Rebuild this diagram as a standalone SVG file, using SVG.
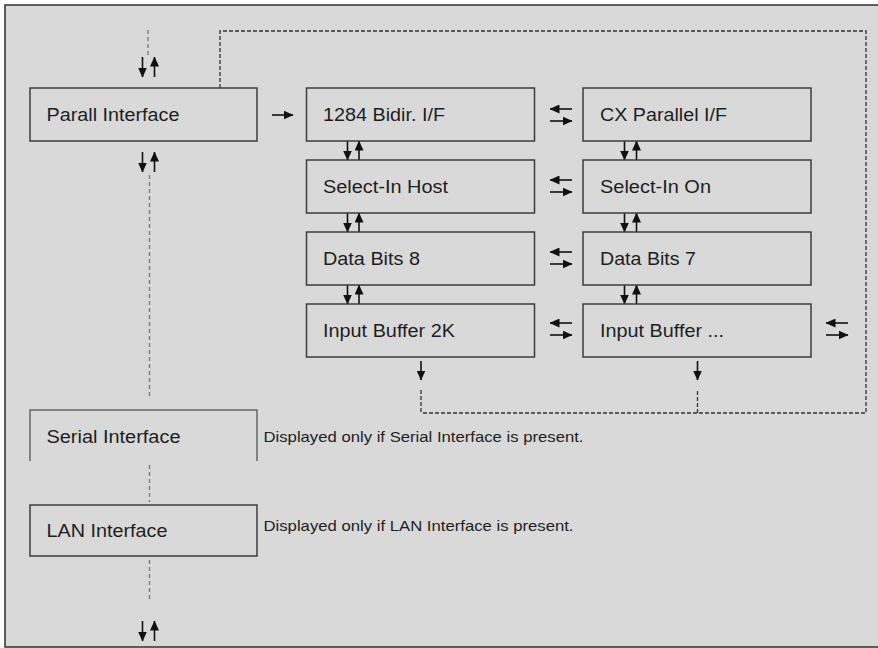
<svg xmlns="http://www.w3.org/2000/svg" width="878" height="648" viewBox="0 0 878 648">
<style>
.box{fill:none;stroke:#3c3c3c;stroke-width:1.5}
.lbl{font-family:"Liberation Sans",Arial,sans-serif;font-size:17.5px;fill:#1e1e1e}
.desc{font-family:"Liberation Sans",Arial,sans-serif;font-size:15px;fill:#1e1e1e}
.arr{stroke:#111;stroke-width:1.6;fill:none;marker-end:url(#ah)}
.dash{stroke:#333;stroke-width:1.3;fill:none;stroke-dasharray:4 2}
.dashl{stroke:#777;stroke-width:1.3;fill:none;stroke-dasharray:4 3}
</style>
<defs>
<marker id="ah" markerUnits="userSpaceOnUse" markerWidth="10" markerHeight="9" refX="9.5" refY="4.5" orient="auto">
<path d="M0,0 L10,4.5 L0,9 z" fill="#111"/>
</marker>
</defs>
<rect x="0" y="0" width="878" height="648" fill="#ffffff"/>
<rect x="5" y="5" width="900" height="642" fill="#d9d9d9" stroke="#3a3a3a" stroke-width="1.6"/>

<g id="connectors">
<path class="dash" d="M220,88 V31 H866 V413 H421"/>
<path class="dash" d="M421,390 V413"/>
<path class="dash" d="M697.5,391 V413"/>
<path class="dashl" d="M148,30 V58"/>
<path class="dashl" d="M149.5,175 V397"/>
<path class="dashl" d="M149.5,465 V502"/>
<path class="dashl" d="M149.5,560 V600"/>
<line class="arr" x1="142.5" y1="57" x2="142.5" y2="77"/>
<line class="arr" x1="154.5" y1="77" x2="154.5" y2="57"/>
<line class="arr" x1="142.5" y1="152" x2="142.5" y2="172"/>
<line class="arr" x1="154.5" y1="172" x2="154.5" y2="152"/>
<line class="arr" x1="142.5" y1="621" x2="142.5" y2="641"/>
<line class="arr" x1="154.5" y1="641" x2="154.5" y2="621"/>
<line class="arr" x1="272" y1="115" x2="293" y2="115"/>
<line class="arr" x1="347.5" y1="141" x2="347.5" y2="160"/>
<line class="arr" x1="359" y1="160" x2="359" y2="141"/>
<line class="arr" x1="347.5" y1="213" x2="347.5" y2="232"/>
<line class="arr" x1="359" y1="232" x2="359" y2="213"/>
<line class="arr" x1="347.5" y1="285" x2="347.5" y2="304"/>
<line class="arr" x1="359" y1="304" x2="359" y2="285"/>
<line class="arr" x1="624.5" y1="141" x2="624.5" y2="160"/>
<line class="arr" x1="636.5" y1="160" x2="636.5" y2="141"/>
<line class="arr" x1="624.5" y1="213" x2="624.5" y2="232"/>
<line class="arr" x1="636.5" y1="232" x2="636.5" y2="213"/>
<line class="arr" x1="624.5" y1="285" x2="624.5" y2="304"/>
<line class="arr" x1="636.5" y1="304" x2="636.5" y2="285"/>
<line class="arr" x1="572" y1="109" x2="550" y2="109"/>
<line class="arr" x1="550" y1="121" x2="572" y2="121"/>
<line class="arr" x1="572" y1="180" x2="550" y2="180"/>
<line class="arr" x1="550" y1="192" x2="572" y2="192"/>
<line class="arr" x1="572" y1="252" x2="550" y2="252"/>
<line class="arr" x1="550" y1="264" x2="572" y2="264"/>
<line class="arr" x1="572" y1="323" x2="550" y2="323"/>
<line class="arr" x1="550" y1="335" x2="572" y2="335"/>
<line class="arr" x1="848" y1="323" x2="826" y2="323"/>
<line class="arr" x1="826" y1="335" x2="848" y2="335"/>
<line class="arr" x1="421" y1="361" x2="421" y2="380"/>
<line class="arr" x1="697.5" y1="361" x2="697.5" y2="380"/>
</g>

<g id="parall-interface">
<rect class="box" x="30" y="88" width="227" height="53"/>
<text class="lbl" x="46.5" y="121" textLength="133" lengthAdjust="spacingAndGlyphs">Parall Interface</text>
</g>
<g id="bidir">
<rect class="box" x="306.5" y="88" width="228" height="53"/>
<text class="lbl" x="323" y="121" textLength="122" lengthAdjust="spacingAndGlyphs">1284 Bidir. I/F</text>
</g>
<g id="cx-parallel">
<rect class="box" x="583" y="88" width="228" height="53"/>
<text class="lbl" x="600" y="121" textLength="127" lengthAdjust="spacingAndGlyphs">CX Parallel I/F</text>
</g>
<g id="select-in-host">
<rect class="box" x="306.5" y="160" width="228" height="53"/>
<text class="lbl" x="323" y="193" textLength="125" lengthAdjust="spacingAndGlyphs">Select-In Host</text>
</g>
<g id="select-in-on">
<rect class="box" x="583" y="160" width="228" height="53"/>
<text class="lbl" x="600" y="193" textLength="111" lengthAdjust="spacingAndGlyphs">Select-In On</text>
</g>
<g id="data-bits-8">
<rect class="box" x="306.5" y="232" width="228" height="53"/>
<text class="lbl" x="323" y="265" textLength="97" lengthAdjust="spacingAndGlyphs">Data Bits 8</text>
</g>
<g id="data-bits-7">
<rect class="box" x="583" y="232" width="228" height="53"/>
<text class="lbl" x="600" y="265" textLength="96" lengthAdjust="spacingAndGlyphs">Data Bits 7</text>
</g>
<g id="input-buffer-2k">
<rect class="box" x="306.5" y="304" width="228" height="53"/>
<text class="lbl" x="323" y="337" textLength="132" lengthAdjust="spacingAndGlyphs">Input Buffer 2K</text>
</g>
<g id="input-buffer-more">
<rect class="box" x="583" y="304" width="228" height="53"/>
<text class="lbl" x="600" y="337" textLength="124" lengthAdjust="spacingAndGlyphs">Input Buffer ...</text>
</g>
<g id="serial-interface">
<path d="M30,461 V410 H257 V461" fill="none" stroke="#666" stroke-width="1.5"/>
<text class="lbl" x="46.5" y="443" textLength="134" lengthAdjust="spacingAndGlyphs">Serial Interface</text>
<text class="desc" x="263.5" y="441.5" textLength="320" lengthAdjust="spacingAndGlyphs">Displayed only if Serial Interface is present.</text>
</g>
<g id="lan-interface">
<rect class="box" x="30" y="505" width="227" height="51"/>
<text class="lbl" x="46.5" y="537" textLength="121" lengthAdjust="spacingAndGlyphs">LAN Interface</text>
<text class="desc" x="263.5" y="531" textLength="310" lengthAdjust="spacingAndGlyphs">Displayed only if LAN Interface is present.</text>
</g>
</svg>
